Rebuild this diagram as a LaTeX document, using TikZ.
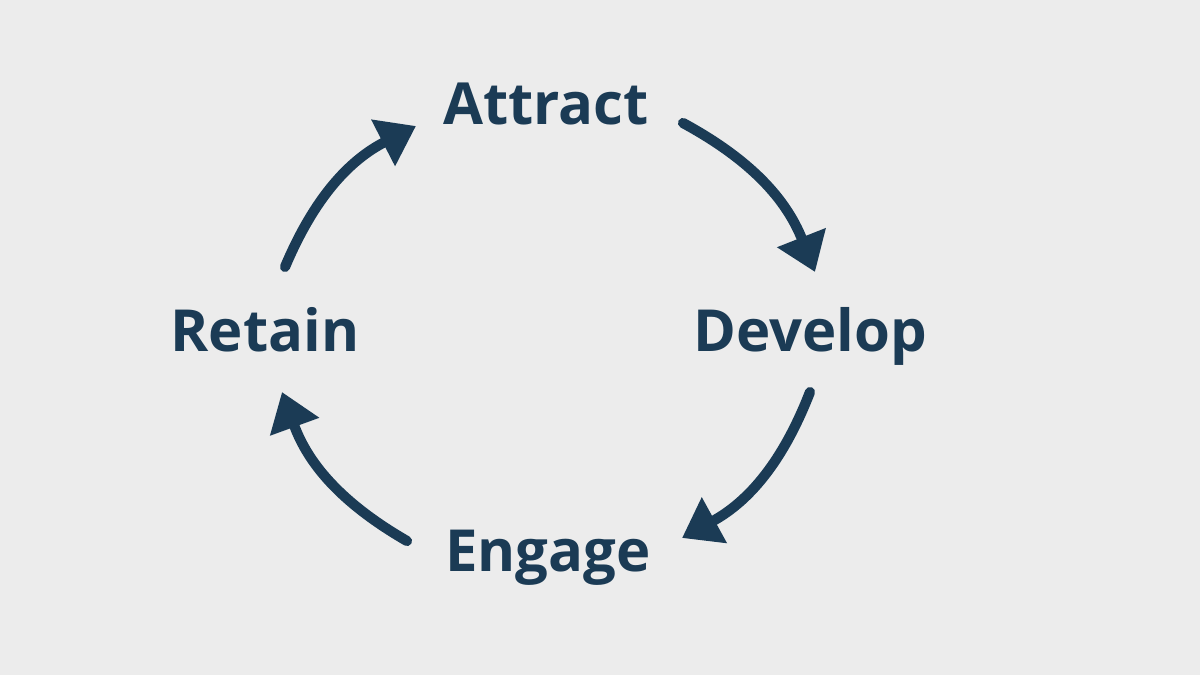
\documentclass[tikz,border=0pt]{standalone}
\usepackage{fontspec}
\setmainfont{Open Sans}
\usetikzlibrary{arrows.meta, positioning}

\definecolor{navy}{HTML}{1B3B55}
\definecolor{paper}{HTML}{ECECEC}

\begin{document}
\begin{tikzpicture}[
    stage/.style={text=navy, font=\fontsize{16.5}{18}\selectfont\bfseries, anchor=base, inner sep=0pt},
    cyc/.style={draw=navy, line width=2.9pt, line cap=round,
      -{Triangle[length=3.7mm, width=5mm]}}
  ]
  \fill[paper] (0,0) rectangle (12,-6.75);
  \useasboundingbox (0,0) rectangle (12,-6.75);

  % the four stages
  \node[stage] (attract) at (5.46,-1.24) {Attract};
  \node[stage] (develop) at (8.10,-3.51) {Develop};
  \node[stage] (engage)  at (5.48,-5.71) {Engage};
  \node[stage] (retain)  at (2.65,-3.51) {Retain};

  % arrow ends
  \coordinate (attract-out) at (6.83,-1.23);
  \coordinate (develop-in)  at (8.15,-2.72);
  \coordinate (develop-out) at (8.10,-3.92);
  \coordinate (engage-in)   at (6.82,-5.38);
  \coordinate (engage-out)  at (4.07,-5.41);
  \coordinate (retain-in)   at (2.82,-3.92);
  \coordinate (retain-out)  at (2.85,-2.67);
  \coordinate (attract-in)  at (4.16,-1.26);

  \draw[cyc] (attract-out) to[bend left=20] (develop-in);
  \draw[cyc] (develop-out) to[bend left=20] (engage-in);
  \draw[cyc] (engage-out) to[bend left=20] (retain-in);
  \draw[cyc] (retain-out) to[bend left=20] (attract-in);
\end{tikzpicture}
\end{document}
